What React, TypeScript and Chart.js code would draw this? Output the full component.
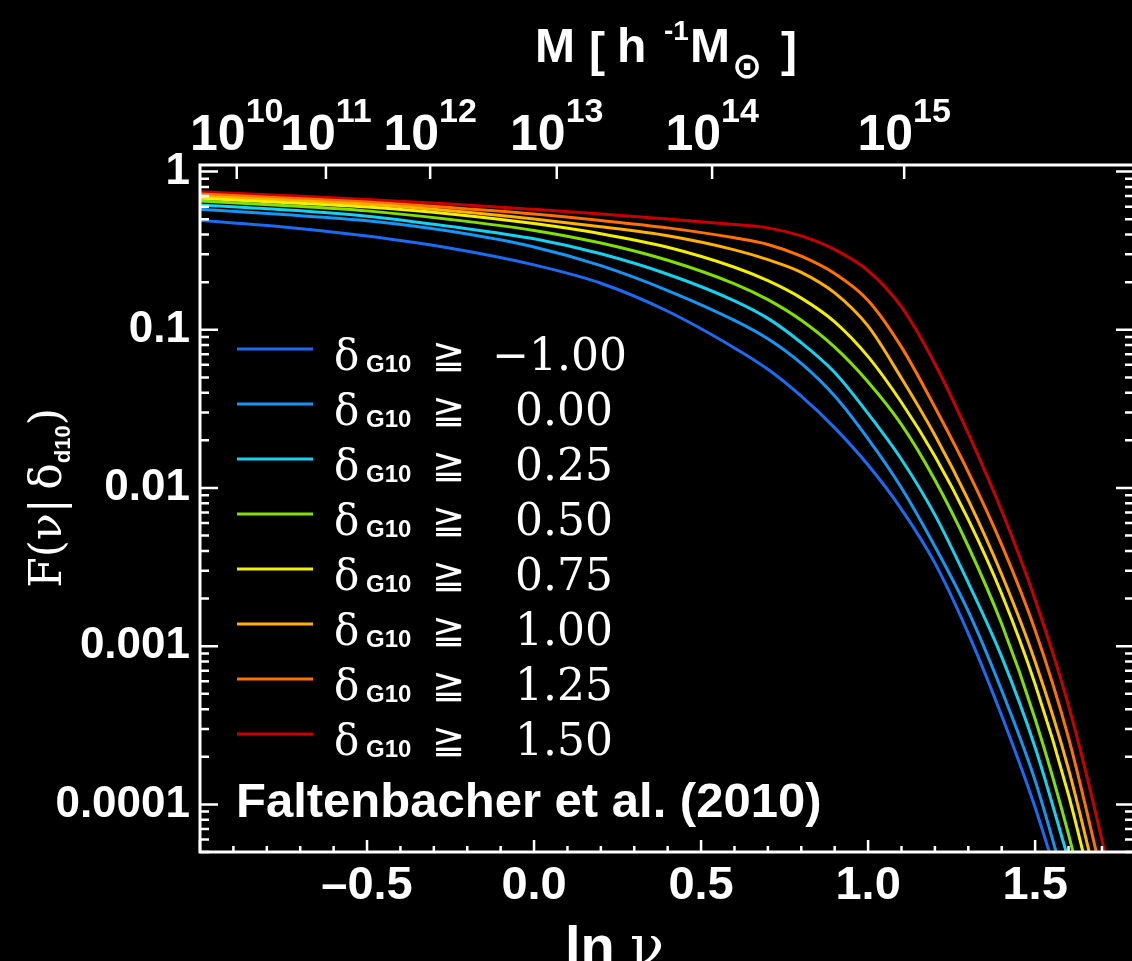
import React, { useEffect, useRef } from 'react';
import { Chart, registerables } from 'chart.js';

Chart.register(...registerables);

// ---------------- data ----------------
const deltaLabels = ['\u22121.00', '0.00', '0.25', '0.50', '0.75', '1.00', '1.25', '1.50'];
const curveColors = ['#1a6af2', '#1496f5', '#14d2f0', '#80e000', '#f2f000', '#ffb000', '#ff7000', '#c80000'];

// ln(nu) sample positions
const lnNuGrid = [-1.0, -0.75, -0.5, -0.25, 0.0, 0.2, 0.4, 0.6, 0.7, 0.8, 0.9, 1.0, 1.1, 1.2, 1.3, 1.4, 1.5, 1.6, 1.7, 1.75];

// F(nu | delta) for each delta_G10 threshold, read at lnNuGrid
const fM100 = [0.492, 0.4467, 0.3908, 0.3273, 0.257, 0.1968, 0.1309, 0.07674, 0.05623, 0.03802, 0.02399, 0.01396, 0.007328, 0.00335, 0.001202, 0.0003631, 0.0000955, 0.00001995];
const f000 = [0.5768, 0.5346, 0.4887, 0.4188, 0.3334, 0.2541, 0.177, 0.1146, 0.0877, 0.06123, 0.03811, 0.02042, 0.01, 0.004266, 0.00166, 0.0005248, 0.0001413, 0.0000263];
const f025 = [0.6152, 0.5741, 0.5224, 0.4498, 0.3758, 0.302, 0.2244, 0.1524, 0.118, 0.08279, 0.0537, 0.02951, 0.01514, 0.006761, 0.002512, 0.0008551, 0.0002291, 0.0000447];
const f050 = [0.6516, 0.6109, 0.5642, 0.4977, 0.4246, 0.3532, 0.2748, 0.195, 0.1549, 0.1148, 0.07762, 0.04677, 0.02512, 0.01122, 0.004266, 0.00138, 0.0003467, 0.00006457, 0.000008511];
const f075 = [0.6776, 0.6383, 0.597, 0.5395, 0.4688, 0.4046, 0.3319, 0.2483, 0.2042, 0.1585, 0.1122, 0.06761, 0.03467, 0.01585, 0.00631, 0.002138, 0.0005754, 0.0001148, 0.00001585];
const f100 = [0.6982, 0.6607, 0.6209, 0.5649, 0.5012, 0.4477, 0.3926, 0.3199, 0.2773, 0.2307, 0.171, 0.1054, 0.04932, 0.02153, 0.008375, 0.002838, 0.0007998, 0.0001671, 0.00002307];
const f125 = [0.7211, 0.6808, 0.6412, 0.5916, 0.5395, 0.4909, 0.4406, 0.3811, 0.3459, 0.2917, 0.2265, 0.1531, 0.07762, 0.03236, 0.01259, 0.004365, 0.001259, 0.000263, 0.00003548];
const f150 = [0.7464, 0.7063, 0.6668, 0.6237, 0.5768, 0.5395, 0.5012, 0.4624, 0.4406, 0.3917, 0.3214, 0.2366, 0.1393, 0.06081, 0.02208, 0.007145, 0.001968, 0.0004207, 0.00005943, 0.00001879];

const seriesF = [fM100, f000, f025, f050, f075, f100, f125, f150];

// axes
const xMin = -1.0;
const xMax = 1.796;
const yMin = 5e-5;
const yMax = 1.1;
const xLabelValues = [-0.5, 0.0, 0.5, 1.0, 1.5];
const xLabelTexts = ['\u20130.5', '0.0', '0.5', '1.0', '1.5'];
const yMajorValues = [1, 0.1, 0.01, 0.001, 0.0001];
const yMajorLabels = ['1', '0.1', '0.01', '0.001', '0.0001'];
const massExponents = ['10', '11', '12', '13', '14', '15'];
const massTickLnNu = [-0.89, -0.623, -0.311, 0.068, 0.533, 1.108];
const sourceNote = 'Faltenbacher et al. (2010)';

const SANS = '"Liberation Sans", Arial, Helvetica, sans-serif';
const SERIF = '"DejaVu Serif", serif';
const SYM = '"DejaVu Sans", sans-serif';

const CANVAS_W = 1136; // 2px wider than the page: the right frame line falls just outside the visible area
const CANVAS_H = 961;

const isXMajor = (v: number) => xLabelValues.some((m) => Math.abs(m - v) < 1e-6) || Math.abs(v - xMin) < 1e-6;
const yMajorIndex = (v: number) => yMajorValues.findIndex((m) => Math.abs(m - v) / m < 1e-6);

const overlayPlugin = {
  id: 'overlay',
  afterDraw(chart: any) {
    const { ctx, chartArea: a, scales } = chart;
    const xs = scales.x;
    const ys = scales.y;
    const ts = scales.xTop;
    ctx.save();
    ctx.strokeStyle = '#ffffff';
    ctx.fillStyle = '#ffffff';
    ctx.lineCap = 'butt';

    // tick marks (pointing inwards)
    ctx.lineWidth = 2.5;
    ctx.beginPath();
    xs.ticks.forEach((t: any) => {
      const px = xs.getPixelForValue(t.value);
      const len = isXMajor(t.value) ? 12 : 6;
      ctx.moveTo(px, a.bottom);
      ctx.lineTo(px, a.bottom - len);
    });
    ys.ticks.forEach((t: any) => {
      const py = ys.getPixelForValue(t.value);
      const len = yMajorIndex(t.value) >= 0 ? 18 : 9;
      ctx.moveTo(a.left, py);
      ctx.lineTo(a.left + len, py);
      ctx.moveTo(a.right, py);
      ctx.lineTo(a.right - len, py);
    });
    ts.ticks.forEach((t: any) => {
      const px = ts.getPixelForValue(t.value);
      ctx.moveTo(px, a.top);
      ctx.lineTo(px, a.top + 14);
    });
    ctx.stroke();

    // frame
    ctx.lineWidth = 3;
    ctx.strokeRect(a.left, a.top, a.right - a.left, a.bottom - a.top);

    ctx.textAlign = 'left';
    ctx.textBaseline = 'alphabetic';

    // top axis labels 10^n
    ts.ticks.forEach((t: any, i: number) => {
      const px = ts.getPixelForValue(t.value);
      ctx.font = `bold 50px ${SANS}`;
      const wb = ctx.measureText('10').width;
      ctx.font = `bold 34px ${SANS}`;
      const ws = ctx.measureText(massExponents[i]).width;
      const start = px - (wb + ws) / 2;
      ctx.font = `bold 50px ${SANS}`;
      ctx.fillText('10', start, 150);
      ctx.font = `bold 34px ${SANS}`;
      ctx.fillText(massExponents[i], start + wb, 122);
    });

    // top title  M [ h^-1 M_sun ]
    ctx.font = `bold 48px ${SANS}`;
    ctx.fillText('M', 535, 62);
    ctx.fillText('[', 589, 66);
    ctx.fillText('h', 617, 62);
    ctx.font = `bold 28px ${SANS}`;
    ctx.fillText('-1', 664, 40);
    ctx.font = `bold 48px ${SANS}`;
    ctx.fillText('M', 690, 62);
    ctx.font = `bold 36px ${SYM}`;
    ctx.fillText('\u2299', 732, 78);
    ctx.font = `bold 48px ${SANS}`;
    ctx.fillText(']', 781, 66);

    // x title  ln nu
    ctx.font = `bold 56px ${SANS}`;
    ctx.fillText('ln', 565, 965);
    ctx.font = `56px ${SERIF}`;
    ctx.fillText('\u03BD', 630, 965);

    // y title F(nu | delta_d10)
    ctx.save();
    ctx.translate(61, 498);
    ctx.rotate(-Math.PI / 2);
    const parts = [
      { t: 'F(\u03BD|\u2009\u03B4', f: `44px ${SERIF}`, dy: 0 },
      { t: 'd10', f: `bold 22px ${SANS}`, dy: 9 },
      { t: ')', f: `44px ${SERIF}`, dy: 0 },
    ];
    let total = 0;
    parts.forEach((p) => { ctx.font = p.f; total += ctx.measureText(p.t).width; });
    let cx = -total / 2;
    parts.forEach((p) => {
      ctx.font = p.f;
      ctx.fillText(p.t, cx, p.dy);
      cx += ctx.measureText(p.t).width;
    });
    ctx.restore();

    // legend
    deltaLabels.forEach((lab, i) => {
      const y = 349 + 55 * i;
      ctx.strokeStyle = curveColors[i];
      ctx.lineWidth = 3;
      ctx.beginPath();
      ctx.moveTo(237, y);
      ctx.lineTo(313, y);
      ctx.stroke();
      ctx.fillStyle = '#ffffff';
      ctx.textAlign = 'left';
      ctx.font = `42px ${SERIF}`;
      ctx.fillText('\u03B4', 334, y + 21);
      ctx.font = `bold 24px ${SANS}`;
      ctx.fillText('G10', 366, y + 23);
      ctx.font = `40px ${SYM}`;
      ctx.fillText('\u2267', 432, y + 19);
      ctx.font = `44px ${SERIF}`;
      ctx.textAlign = 'right';
      ctx.fillText(lab, lab.startsWith('\u2212') ? 627 : 613, y + 21);
    });

    // source note
    ctx.textAlign = 'left';
    ctx.font = `bold 49px ${SANS}`;
    ctx.fillText(sourceNote, 236, 817);

    ctx.restore();
  },
};

const backgroundPlugin = {
  id: 'bg',
  beforeDraw(chart: any) {
    const { ctx, width, height } = chart;
    ctx.save();
    ctx.fillStyle = '#000000';
    ctx.fillRect(0, 0, width, height);
    ctx.restore();
  },
};

export default function App() {
  const ref = useRef<HTMLCanvasElement | null>(null);

  useEffect(() => {
    if (!ref.current) return;
    const datasets = seriesF.map((fs, i) => ({
      label: deltaLabels[i],
      data: fs.map((f, j) => ({ x: lnNuGrid[j], y: f })),
      borderColor: curveColors[i],
      backgroundColor: curveColors[i],
      borderWidth: 3,
      pointRadius: 0,
      fill: false,
      cubicInterpolationMode: 'monotone' as const,
      clip: 0,
    }));

    const chart = new Chart(ref.current, {
      type: 'line',
      data: { datasets },
      plugins: [backgroundPlugin, overlayPlugin],
      options: {
        animation: false,
        responsive: false,
        devicePixelRatio: 1,
        layout: { padding: { left: 0, right: 2, top: 0, bottom: 0 } },
        plugins: { legend: { display: false }, tooltip: { enabled: false }, title: { display: false } },
        scales: {
          x: {
            type: 'linear',
            position: 'bottom',
            min: xMin,
            max: xMax,
            afterBuildTicks: (scale: any) => {
              const t = [];
              for (let i = -10; i <= 17; i++) t.push({ value: i / 10 });
              scale.ticks = t;
            },
            afterFit: (scale: any) => { scale.height = 109; },
            grid: { display: false, drawTicks: false },
            border: { display: false },
            ticks: {
              autoSkip: false,
              maxRotation: 0,
              padding: 6,
              color: '#ffffff',
              font: { family: SANS, weight: 'bold', size: 47 },
              callback: (value: any) => {
                const i = xLabelValues.findIndex((v) => Math.abs(v - Number(value)) < 1e-6);
                return i >= 0 ? xLabelTexts[i] : '';
              },
            },
          },
          xTop: {
            type: 'linear',
            position: 'top',
            min: xMin,
            max: xMax,
            afterBuildTicks: (scale: any) => {
              scale.ticks = massTickLnNu.map((v) => ({ value: v }));
            },
            afterFit: (scale: any) => { scale.height = 165; },
            grid: { display: false, drawTicks: false },
            border: { display: false },
            ticks: { display: false },
          },
          y: {
            type: 'logarithmic',
            position: 'left',
            min: yMin,
            max: yMax,
            afterBuildTicks: (scale: any) => {
              const t: any[] = [];
              for (let e = -5; e <= -1; e++) {
                for (let k = 1; k <= 9; k++) {
                  const v = k * Math.pow(10, e);
                  if (v >= yMin * 0.999 && v <= yMax) t.push({ value: v });
                }
              }
              t.push({ value: 1 });
              scale.ticks = t;
            },
            afterFit: (scale: any) => { scale.width = 200; },
            grid: { display: false, drawTicks: false },
            border: { display: false },
            ticks: {
              autoSkip: false,
              padding: 10,
              color: '#ffffff',
              font: { family: SANS, weight: 'bold', size: 44 },
              callback: (value: any) => {
                const i = yMajorIndex(Number(value));
                return i >= 0 ? yMajorLabels[i] : '';
              },
            },
          },
        },
      },
    } as any);
    return () => chart.destroy();
  }, []);

  return (
    <div style={{ position: 'fixed', left: 0, top: 0, width: 1132, height: 961, overflow: 'hidden', background: '#000' }}>
      <canvas ref={ref} width={CANVAS_W} height={CANVAS_H} style={{ display: 'block', width: CANVAS_W, height: CANVAS_H }} />
    </div>
  );
}
